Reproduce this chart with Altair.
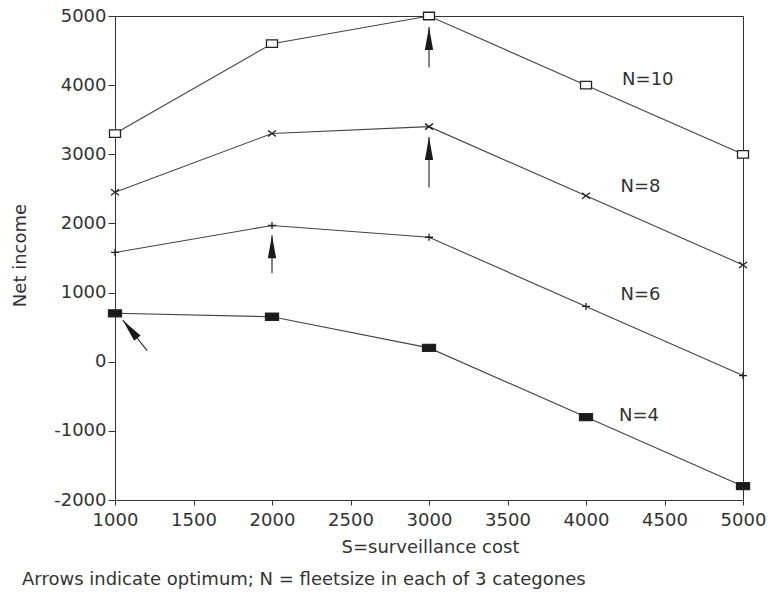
import altair as alt
import pandas as pd

# ---- data ----
cost = [1000, 2000, 3000, 4000, 5000]
n10 = [3300, 4600, 5000, 4000, 3000]
n8 = [2450, 3300, 3400, 2400, 1400]
n6 = [1580, 1970, 1800, 800, -200]
n4 = [700, 650, 200, -800, -1800]
series_names = ["N=10", "N=8", "N=6", "N=4"]

# series label anchor positions (data units)
label_x = [4230, 4220, 4220, 4210]
label_y = [4070, 2520, 960, -780]

# arrows marking the optimum (tip / tail in data units, angle in degrees)
arrow_tip_x = [3000, 3000, 2000, 1050]
arrow_tip_y = [4840, 3250, 1830, 600]
arrow_tail_x = [3000, 3000, 2000, 1205]
arrow_tail_y = [4260, 2520, 1280, 160]
arrow_angle = [0, 0, 0, 321]

footnote = ["Arrows indicate optimum; N = fleetsize in each of 3 categones"]

# ---- tables ----
rows = []
for name, vals in zip(series_names, [n10, n8, n6, n4]):
    for c, v in zip(cost, vals):
        rows.append({"series": name, "cost": c, "income": v})
df = pd.DataFrame(rows)

labels = pd.DataFrame({"series": series_names, "x": label_x, "y": label_y})
arrows = pd.DataFrame({"x": arrow_tip_x, "y": arrow_tip_y,
                       "x2": arrow_tail_x, "y2": arrow_tail_y,
                       "angle": arrow_angle})
foot = pd.DataFrame({"t": footnote})

FONT = "DejaVu Sans"
INK = "#333333"
FS = 18
LABEL_EXPR = "datum.value < 0 ? '-' + abs(datum.value) : '' + datum.value"

xscale = alt.Scale(domain=[1000, 5000], nice=False, zero=False)
yscale = alt.Scale(domain=[-2000, 5000], nice=False, zero=False)

xenc = alt.X("cost:Q", scale=xscale,
             axis=alt.Axis(values=[1000, 1500, 2000, 2500, 3000, 3500, 4000, 4500, 5000],
                           labelExpr=LABEL_EXPR, labelFlush=False, labelOverlap=False,
                           title="S=surveillance cost",
                           titleX=315, titleY=47, titleBaseline="middle",
                           titleAlign="center", titleFontWeight="normal",
                           titleFontSize=FS, titleFont=FONT, titleColor=INK,
                           labelFont=FONT, labelFontSize=FS, labelColor=INK,
                           tickSize=5, labelPadding=6, grid=False,
                           domainColor=INK, tickColor=INK))
yenc = alt.Y("income:Q", scale=yscale,
             axis=alt.Axis(values=[-2000, -1000, 0, 1000, 2000, 3000, 4000, 5000],
                           labelExpr=LABEL_EXPR, labelFlush=False, labelOverlap=False,
                           title="Net income",
                           titleAngle=270, titleX=-95, titleY=239,
                           titleBaseline="middle", titleAlign="center",
                           titleFontWeight="normal", titleFontSize=FS,
                           titleFont=FONT, titleColor=INK,
                           labelFont=FONT, labelFontSize=FS, labelColor=INK,
                           tickSize=7, labelPadding=2, grid=False,
                           domainColor=INK, tickColor=INK))

lines = alt.Chart(df).mark_line(color="#444444", strokeWidth=1.1).encode(
    x=xenc, y=yenc, detail="series:N")

shape_range = [
    "M-1.1,-0.75L1.1,-0.75L1.1,0.75L-1.1,0.75Z",
    "M-0.8,-0.6L0.8,0.6M0.8,-0.6L-0.8,0.6",
    "M-0.8,0L0.8,0M0,-0.7L0,0.7",
    "M-1.3,-0.7L1.3,-0.7L1.3,0.7L-1.3,0.7Z",
]
points = alt.Chart(df).mark_point(size=100, strokeWidth=1.3, opacity=1,
                                  stroke="#222222").encode(
    x="cost:Q", y="income:Q",
    shape=alt.Shape("series:N", scale=alt.Scale(domain=series_names, range=shape_range),
                    legend=None),
    fill=alt.Fill("series:N", scale=alt.Scale(domain=series_names,
                                              range=["white", "transparent", "transparent", "#1a1a1a"]),
                  legend=None),
)

stems = alt.Chart(arrows).mark_rule(color="#333333", strokeWidth=1.2).encode(
    x="x:Q", y="y:Q", x2="x2:Q", y2="y2:Q")

heads = alt.Chart(arrows).mark_point(
    shape="M0,0L0.36,2L-0.36,2Z", size=530, filled=True, color="#1a1a1a",
    opacity=1, strokeWidth=0).encode(
    x="x:Q", y="y:Q", angle=alt.Angle("angle:Q", scale=None))

texts = alt.Chart(labels).mark_text(align="left", baseline="middle", font=FONT,
                                    fontSize=FS, color=INK).encode(
    x="x:Q", y="y:Q", text="series:N")

note = alt.Chart(foot).mark_text(align="left", baseline="middle", font=FONT,
                                 fontSize=FS, color=INK).encode(
    x=alt.value(-93), y=alt.value(564), text="t:N")

chart = alt.layer(lines, points, stems, heads, texts, note).properties(
    width=628, height=484,
    autosize=alt.AutoSizeParams(type="none"),
    padding={"left": 115, "top": 16, "right": 25, "bottom": 94},
    background="white",
).configure_view(stroke=INK, strokeWidth=1)

chart.save("out.html", embed_options={"renderer": "svg", "actions": False})
